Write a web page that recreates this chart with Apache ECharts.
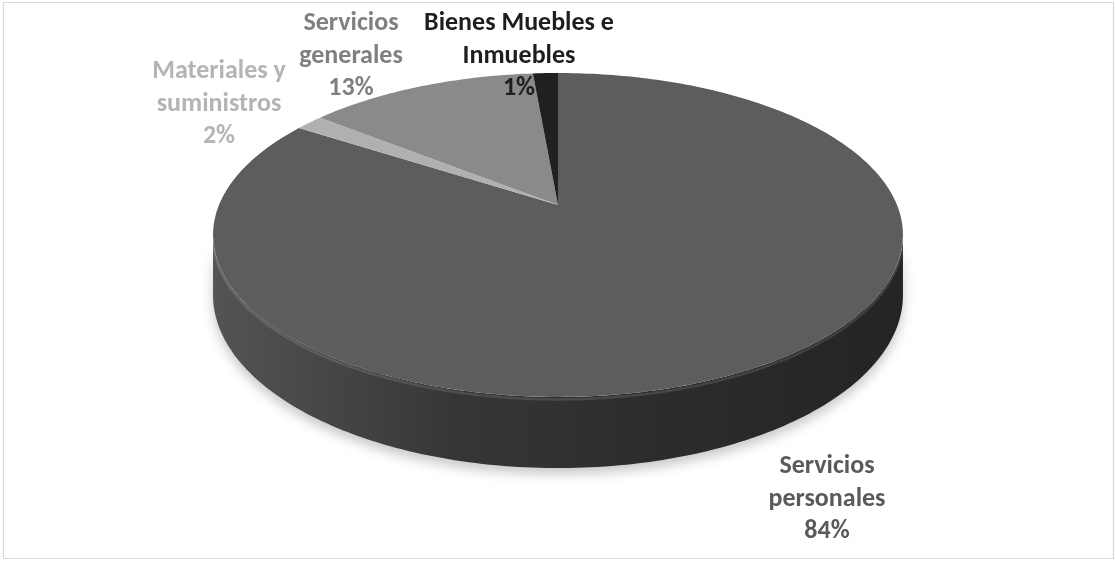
<!DOCTYPE html>
<html>
<head>
<meta charset="utf-8">
<script src="https://cdn.jsdelivr.net/npm/echarts@6/dist/echarts.min.js"></script>
<style>
  html, body { margin: 0; padding: 0; background: #ffffff; }
  #chart { width: 1115px; height: 561px; }
</style>
</head>
<body>
<div id="chart"></div>
<script>
// Budget share by spending chapter
const categories = ['Servicios personales', 'Materiales y suministros', 'Servicios generales', 'Bienes Muebles e Inmuebles'];
const labelLines = ['Servicios\npersonales', 'Materiales y\nsuministros', 'Servicios\ngenerales', 'Bienes Muebles e\nInmuebles'];
const values = [84.1, 1.6, 12.9, 1.4];

// Styling
const sliceColors = ['#5d5d5d', '#b0b0b0', '#8a8a8a', '#212121'];
const labelColors = ['#5a5a5a', '#b4b4b4', '#808080', '#1e1e1e'];
const labelAnchors = [[827, 499], [219, 104], [351, 56], [519, 56]];

// Tilted disc with a little perspective: unit circle -> screen
const P = { cx: 558, cy: 205, A: 339, B: 156.4, k: 0.185, depth: 58 };
function proj(theta, r, down) {
  const u = r * Math.sin(theta);
  const v = -r * Math.cos(theta);
  const w = 1 - P.k * v;
  return [P.cx + P.A * u / w, P.cy + (P.B * v + (down || 0)) / w];
}

const total = values.reduce((s, x) => s + x, 0);
const starts = [];
values.reduce((acc, x, i) => { starts[i] = acc; return acc + x / total * Math.PI * 2; }, 0);

// Angles between which the outer wall faces the viewer
const silLo = Math.acos(-P.k);
const silHi = Math.PI * 2 - silLo;

function arcPoints(a0, a1, down) {
  const pts = [];
  const n = Math.max(2, Math.ceil((a1 - a0) / (Math.PI / 180)));
  for (let j = 0; j <= n; j++) {
    pts.push(proj(a0 + (a1 - a0) * j / n, 1, down));
  }
  return pts;
}

function renderItem(params, api) {
  const i = params.dataIndex;
  const val = api.value(0);
  const a0 = starts[i];
  const a1 = a0 + val / total * Math.PI * 2;
  const children = [];

  // outer wall, lit from the left
  const lo = Math.max(a0, silLo);
  const hi = Math.min(a1, silHi);
  if (hi > lo) {
    const top = arcPoints(lo, hi, 0);
    const bot = arcPoints(lo, hi, P.depth).reverse();
    children.push({
      type: 'polygon',
      shape: { points: top.concat(bot) },
      style: {
        fill: {
          type: 'linear', x: 0, y: 0, x2: 1, y2: 0,
          colorStops: [
            { offset: 0, color: '#545454' },
            { offset: 0.12, color: '#4a4a4a' },
            { offset: 0.35, color: '#363636' },
            { offset: 0.65, color: '#2c2c2c' },
            { offset: 1, color: '#242424' }
          ]
        },
        shadowBlur: 12,
        shadowOffsetY: 6,
        shadowColor: 'rgba(0,0,0,0.22)'
      }
    });
  }

  // top face
  children.push({
    type: 'polygon',
    shape: { points: [proj(0, 0, 0)].concat(arcPoints(a0, a1, 0)) },
    style: { fill: sliceColors[i] }
  });

  // rounded rim highlight along the front edge
  if (hi > lo) {
    const rim = arcPoints(lo, hi, 0).map(p => [p[0], p[1] + 2.5]);
    children.push({
      type: 'polyline',
      shape: { points: rim },
      style: { stroke: 'rgba(255,255,255,0.12)', lineWidth: 2.5, fill: null }
    });
  }

  // label
  children.push({
    type: 'text',
    x: labelAnchors[i][0],
    y: labelAnchors[i][1],
    style: {
      text: labelLines[i] + '\n' + Math.round(val / total * 100) + '%',
      fill: labelColors[i],
      fontFamily: 'Carlito, Lato, "Open Sans", sans-serif',
      fontWeight: 'bold',
      fontSize: 26,
      lineHeight: 32.5,
      align: 'center',
      verticalAlign: 'middle'
    }
  });

  return { type: 'group', children: children };
}

const chart = echarts.init(document.getElementById('chart'), null, { renderer: 'canvas' });
chart.setOption({
  backgroundColor: '#ffffff',
  animation: false,
  graphic: [{
    type: 'rect',
    shape: { x: 3.5, y: 2.5, width: 1110, height: 556 },
    style: { fill: null, stroke: '#d9d9d9', lineWidth: 1.2 },
    z: 100
  }],
  series: [{
    type: 'custom',
    coordinateSystem: 'none',
    renderItem: renderItem,
    data: categories.map((name, i) => ({ name: name, value: [values[i]] }))
  }]
});
</script>
</body>
</html>
